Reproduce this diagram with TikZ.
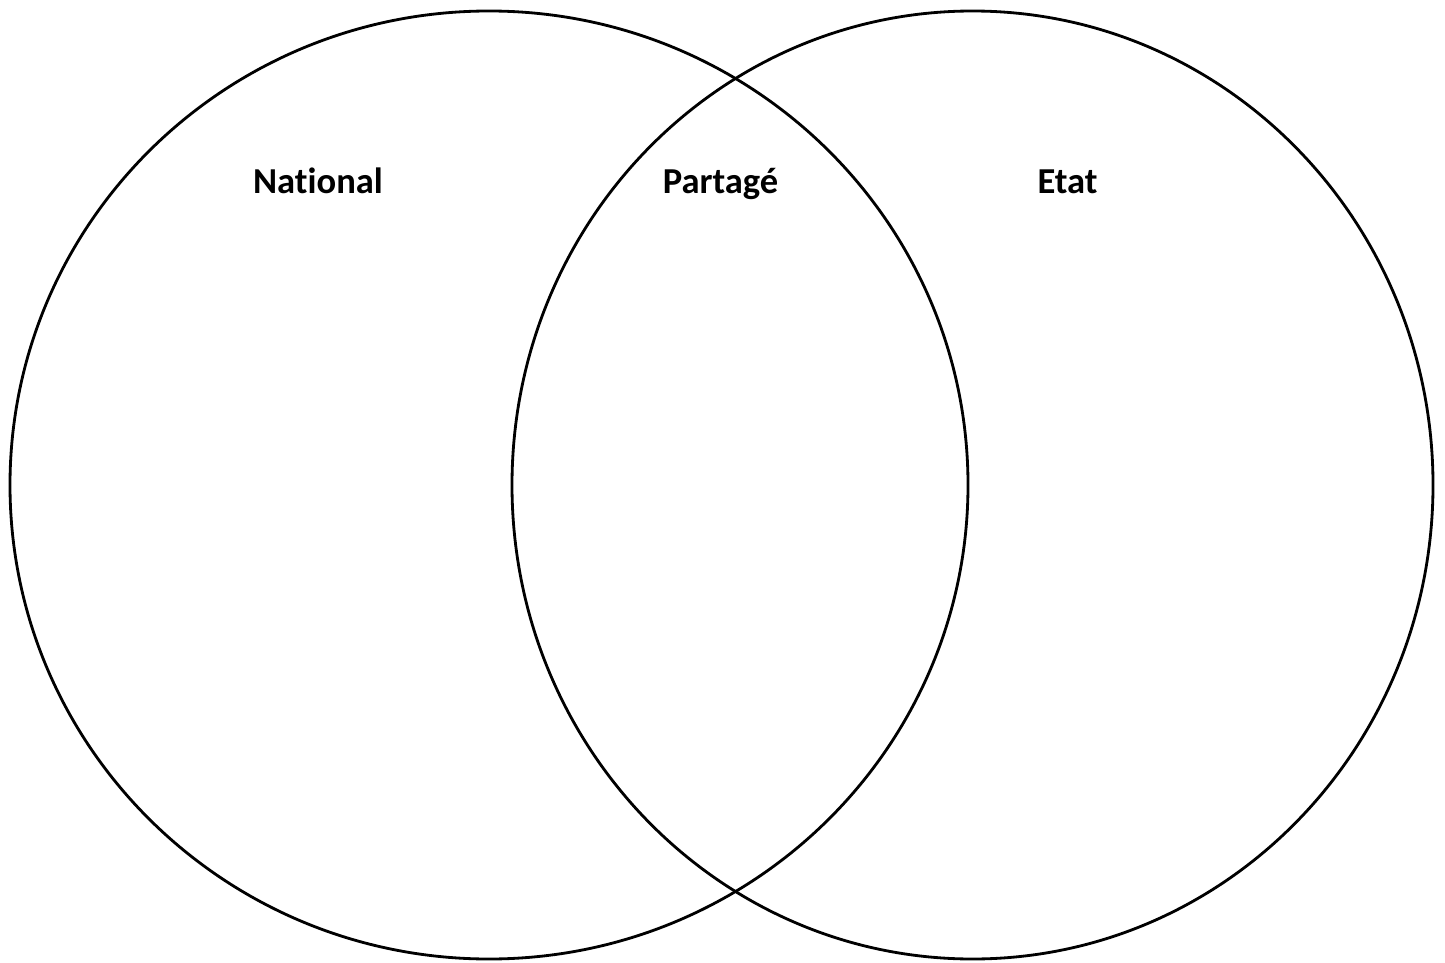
\documentclass[tikz,border=0pt]{standalone}
\usepackage{fontspec}
\setmainfont[Ligatures=NoCommon]{Carlito}
\usetikzlibrary{positioning,shapes.geometric}
\tikzset{every node/.style={font=\fontsize{20.8}{24}\selectfont\bfseries},
 setring/.style={draw=black,line width=1.6pt,ellipse,inner sep=0pt},
 setlabel/.style={anchor=base,inner sep=0pt}}
\begin{document}
\begin{tikzpicture}
\useasboundingbox (0,0) rectangle (28.9,-19.26);
\node[setring,minimum width=19.16cm,minimum height=18.96cm] (nat) at (9.78,-9.70) {};
\node[setring,minimum width=18.42cm,minimum height=18.96cm] (eta) at (19.45,-9.70) {};
\node[setlabel] (lnat) at (6.36,-3.86) {National};
\node[setlabel] (lpar) at (14.41,-3.86) {Partagé};
\node[setlabel] (leta) at (21.35,-3.86) {Etat};
\end{tikzpicture}
\end{document}
